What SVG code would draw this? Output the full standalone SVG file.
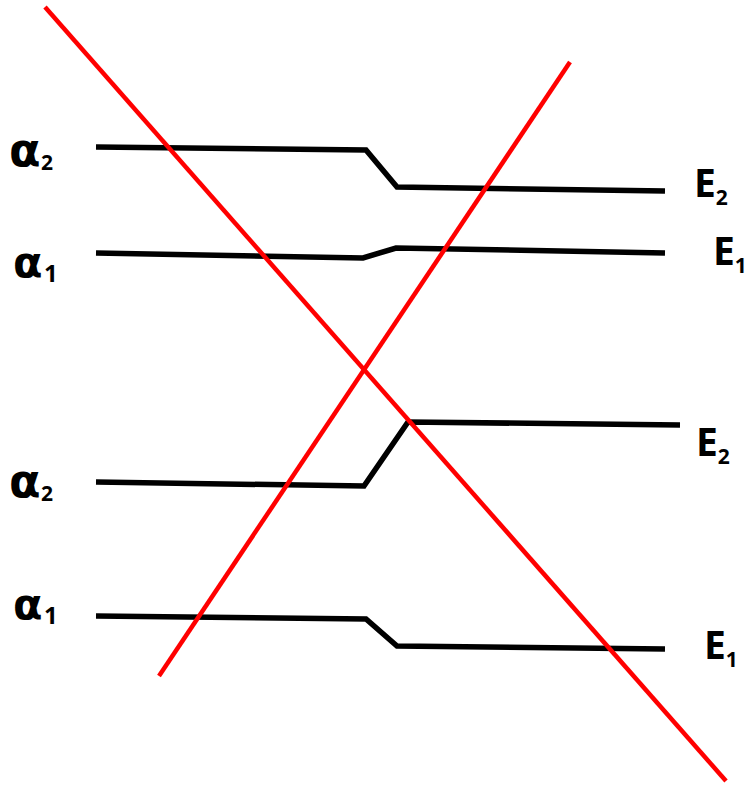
<svg xmlns="http://www.w3.org/2000/svg" width="747" height="785" viewBox="0 0 747 785">
<style>
.lvl{fill:none;stroke:#000;stroke-width:5.5;stroke-linejoin:miter}
.red{fill:none;stroke:#ff0000;stroke-width:4.5}
.lab{font-family:"Open Sans","Liberation Sans",sans-serif;font-weight:bold;fill:#000}
.al{font-family:"DejaVu Sans","Liberation Sans",sans-serif;font-weight:bold;fill:#000}
.a2{font-size:46px}
.a1{font-size:43px}
.big{font-size:39px}
.sub{font-size:21px}
.sub1{font-size:24px}
</style>
<rect width="747" height="785" fill="#fff"/>
<g id="connectors">
<path class="lvl" d="M96,147 L366,150 L397,187 L665,191"/>
<path class="lvl" d="M96,253 L363,258 L396,248 L665,253"/>
<path class="lvl" d="M96,482 L364,486 L408,422 L680,425"/>
<path class="lvl" d="M96,616 L366,619 L397,646 L665,649"/>
<line class="red" x1="45" y1="7" x2="726" y2="781"/>
<line class="red" x1="570" y1="62" x2="159" y2="676"/>
</g>
<g id="label-a2-top"><text class="al a2" x="9" y="166">α</text><text class="lab sub" x="41" y="170">2</text></g>
<g id="label-a1-top"><text class="al a1" x="13" y="277">α</text><text class="lab sub1" x="44" y="282">1</text></g>
<g id="label-a2-bot"><text class="al a2" x="9" y="497">α</text><text class="lab sub" x="41" y="501">2</text></g>
<g id="label-a1-bot"><text class="al a1" x="13" y="619">α</text><text class="lab sub1" x="44" y="624">1</text></g>
<g id="label-e2-top"><text class="lab" x="694" y="197"><tspan class="big">E</tspan><tspan class="sub" dy="8">2</tspan></text></g>
<g id="label-e1-top"><text class="lab" x="713" y="265"><tspan class="big">E</tspan><tspan class="sub" dy="8">1</tspan></text></g>
<g id="label-e2-bot"><text class="lab" x="696" y="456"><tspan class="big">E</tspan><tspan class="sub" dy="8">2</tspan></text></g>
<g id="label-e1-bot"><text class="lab" x="704" y="659"><tspan class="big">E</tspan><tspan class="sub" dy="8">1</tspan></text></g>
</svg>
